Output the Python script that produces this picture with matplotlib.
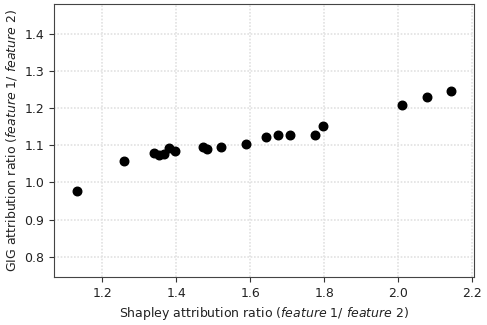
import matplotlib
matplotlib.use("Agg")
import matplotlib.pyplot as plt

# shapley ratio vs GIG ratio
shapley_ratio = [1.131, 1.259, 1.339, 1.353, 1.368, 1.380, 1.396, 1.471, 1.483,
                 1.520, 1.588, 1.644, 1.675, 1.707, 1.776, 1.797, 2.009, 2.079, 2.142]
gig_ratio = [0.978, 1.057, 1.078, 1.074, 1.077, 1.093, 1.085, 1.095, 1.091,
             1.095, 1.104, 1.122, 1.129, 1.129, 1.129, 1.152, 1.209, 1.229, 1.246]

fig = plt.figure(figsize=(4.87, 3.25), dpi=100)
ax = fig.add_axes([54 / 487, 1 - 277 / 325, 420 / 487, 273 / 325])

ax.scatter(shapley_ratio, gig_ratio, color="black", s=38, zorder=3)

ax.set_xlim(1.0695, 2.205)
ax.set_ylim(0.745, 1.481)
ax.set_xticks([1.2, 1.4, 1.6, 1.8, 2.0, 2.2])
ax.set_yticks([0.8, 0.9, 1.0, 1.1, 1.2, 1.3, 1.4])
ax.grid(True, linestyle=(0, (1, 1)), linewidth=1.2, color="#e2e2e2")
ax.tick_params(labelsize=9, colors="#333333", labelcolor="#222222")
for sp in ax.spines.values():
    sp.set_color("#444444")

ax.set_xlabel(r"Shapley attribution ratio ($\it{feature}$ 1/ $\it{feature}$ 2)", fontsize=9, color="#222222")
ax.set_ylabel(r"GIG attribution ratio ($\it{feature}$ 1/ $\it{feature}$ 2)", fontsize=9, color="#222222")

fig.savefig("out.png", dpi=100)
